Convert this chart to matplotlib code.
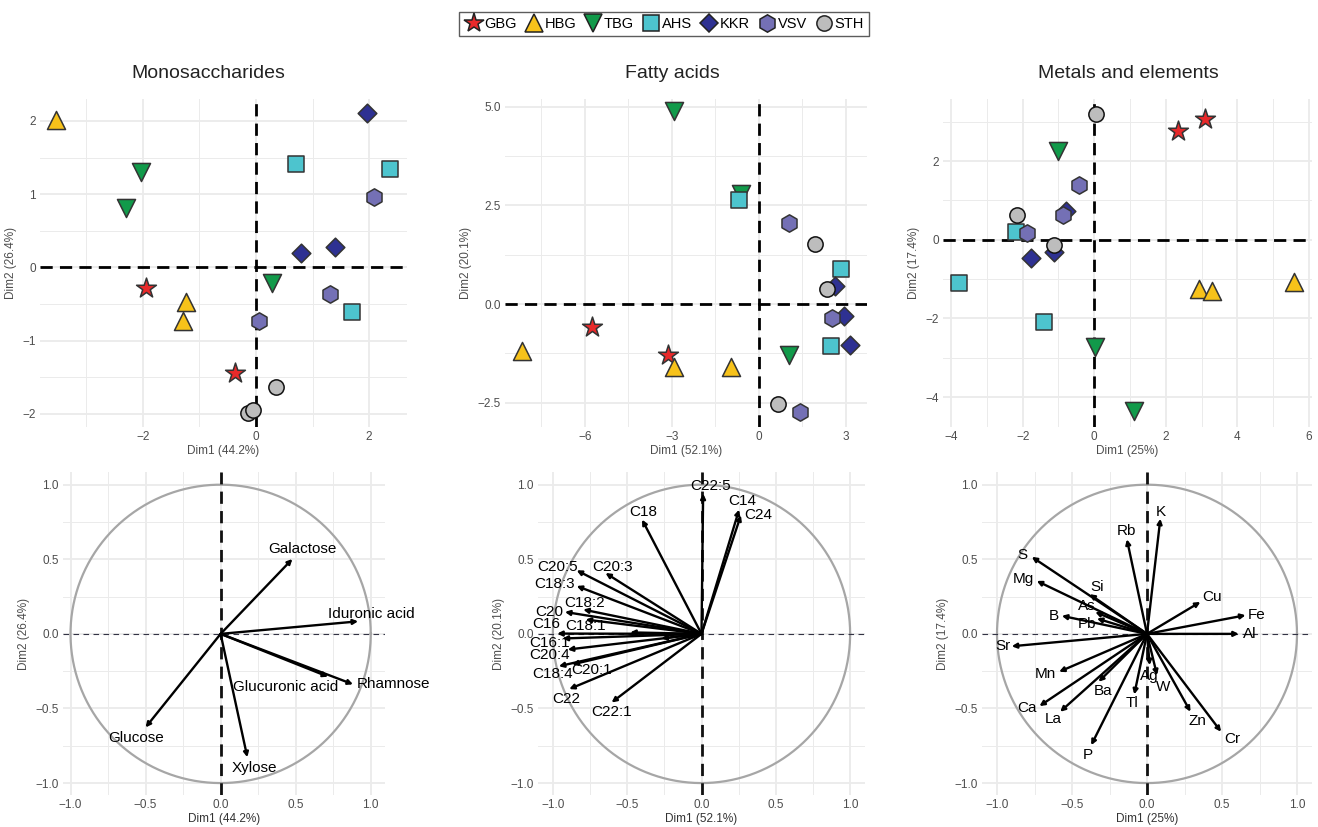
import numpy as np
import matplotlib
matplotlib.use("Agg")
import matplotlib.pyplot as plt
from matplotlib.lines import Line2D

plt.rcParams['font.family'] = ['Liberation Sans', 'DejaVu Sans']

W, H = 1318, 827

# groups / legend
groups = ["GBG", "HBG", "TBG", "AHS", "KKR", "VSV", "STH"]
colors = ["#E8292A", "#F7C21A", "#119A4A", "#4DC4CE", "#2E3192", "#7470B5", "#BDBDBD"]
markers = ["*", "^", "v", "s", "D", "h", "o"]
msizes = [15, 13, 13, 11, 9.5, 12.5, 11]

# individuals (3 per group, same order as groups)
mono_x = [-1.94, -0.37, -3.54, -1.24, -1.29, -2.04, -2.30, 0.28, 0.71, 2.37, 1.69,
          1.96, 0.79, 1.39, 2.08, 1.31, 0.06, 0.35, -0.15, -0.06]
mono_y = [-0.28, -1.44, 2.01, -0.47, -0.73, 1.30, 0.81, -0.21, 1.41, 1.35, -0.61,
          2.11, 0.20, 0.28, 0.96, -0.37, -0.73, -1.64, -1.99, -1.95]
mono_g = [0, 0, 1, 1, 1, 2, 2, 2, 3, 3, 3, 4, 4, 4, 5, 5, 5, 6, 6, 6]

fa_x = [-5.75, -3.13, -8.18, -2.93, -0.94, -2.92, -0.62, 1.05, -0.68, 2.85, 2.51,
        2.62, 2.94, 3.16, 1.03, 2.53, 1.44, 1.93, 2.37, 0.67]
fa_y = [-0.58, -1.29, -1.18, -1.60, -1.60, 4.88, 2.78, -1.29, 2.64, 0.89, -1.05,
        0.45, -0.30, -1.03, 2.04, -0.36, -2.73, 1.53, 0.38, -2.52]
fa_g = [0, 0, 1, 1, 1, 2, 2, 2, 3, 3, 3, 4, 4, 4, 5, 5, 5, 6, 6, 6]

met_x = [2.34, 3.10, 2.92, 3.29, 5.58, -1.01, 0.02, 1.11, -2.18, -3.77, -1.41,
         -1.76, -1.13, -0.78, -1.87, -0.43, -0.86, 0.05, -2.16, -1.13]
met_y = [2.76, 3.06, -1.25, -1.29, -1.08, 2.27, -2.73, -4.36, 0.19, -1.10, -2.09,
         -0.47, -0.31, 0.72, 0.17, 1.40, 0.62, 3.20, 0.62, -0.14]
met_g = [0, 0, 1, 1, 1, 2, 2, 2, 3, 3, 3, 4, 4, 4, 5, 5, 5, 6, 6, 6]

# variables
mono_vars = ["Galactose", "Iduronic acid", "Rhamnose", "Glucuronic acid", "Xylose", "Glucose"]
mono_vx = [0.478, 0.916, 0.882, 0.716, 0.178, -0.50]
mono_vy = [0.502, 0.084, -0.338, -0.287, -0.827, -0.627]

fa_vars = ["C22:5", "C14", "C24", "C18", "C20:5", "C20:3", "C18:3", "C18:2", "C20",
           "C18:1", "C16", "C16:1", "C20:4", "C18:4", "C20:1", "C22", "C22:1", "", ""]
fa_vx = [0.011, 0.253, 0.265, -0.40, -0.84, -0.646, -0.84, -0.796, -0.919,
         -0.78, -0.971, -0.935, -0.90, -0.96, -0.87, -0.89, -0.605, -0.48, -0.27]
fa_vy = [0.94, 0.833, 0.795, 0.766, 0.426, 0.408, 0.321, 0.163, 0.147,
         0.096, 0.002, -0.031, -0.105, -0.217, -0.205, -0.37, -0.46, 0.01, -0.03]

met_vars = ["K", "Rb", "S", "Mg", "Si", "As", "B", "Pb", "Cu", "Fe", "Al", "Sr",
            "Mn", "Ca", "La", "Ba", "P", "Tl", "Ag", "W", "Zn", "Cr"]
met_vx = [0.089, -0.134, -0.768, -0.735, -0.383, -0.345, -0.568, -0.334, 0.356, 0.657,
          0.612, -0.902, -0.586, -0.717, -0.579, -0.323, -0.372, -0.085, 0.018, 0.067,
          0.29, 0.494]
met_vy = [0.772, 0.634, 0.516, 0.355, 0.266, 0.147, 0.121, 0.103, 0.214, 0.125,
          0.0, -0.083, -0.254, -0.484, -0.522, -0.321, -0.746, -0.406, -0.21, -0.277,
          -0.522, -0.656]

# label nudges (dx, dy) from the arrow tip
mono_nudge = [(0.066, 0.065), (0.09, 0.05), (0.27, 0.0), (-0.28, -0.07), (0.05, -0.075), (-0.06, -0.07)]
fa_nudge = [(0.05, 0.05), (0.02, 0.06), (0.115, 0.0), (0.01, 0.05), (-0.13, 0.02), (0.05, 0.04),
            (-0.15, 0.01), (0.01, 0.045), (-0.105, 0.0), (0.0, -0.045), (-0.075, 0.062),
            (-0.085, -0.032), (-0.12, -0.035), (-0.04, -0.05), (0.13, -0.035), (-0.02, -0.065),
            (0.0, -0.067), (0, 0), (0, 0)]
met_nudge = [(0, 0.045), (0, 0.056), (-0.06, 0.01), (-0.09, 0.015), (0.05, 0.05), (-0.055, 0.04),
             (-0.055, 0), (-0.065, -0.035), (0.08, 0.03), (0.075, 0), (0.07, 0), (-0.06, 0),
             (-0.09, -0.015), (-0.085, -0.01), (-0.045, -0.05), (0.03, -0.06), (-0.02, -0.065),
             (-0.015, -0.06), (0, -0.07), (0.04, -0.08), (0.045, -0.065), (0.075, -0.05)]

fig = plt.figure(figsize=(W / 100, H / 100), dpi=100)


def px_axes(x0, y0, x1, y1):
    return fig.add_axes([x0 / W, 1 - y1 / H, (x1 - x0) / W, (y1 - y0) / H])


def style(ax, xlim, ylim, xmaj, ymaj, xmin, ymin):
    ax.set_xlim(*xlim)
    ax.set_ylim(*ylim)
    ax.set_xticks(xmaj)
    ax.set_yticks(ymaj)
    ax.set_xticks(xmin, minor=True)
    ax.set_yticks(ymin, minor=True)
    for s in ax.spines.values():
        s.set_visible(False)
    ax.grid(True, which='major', color='#EBEBEB', lw=1.3)
    ax.grid(True, which='minor', color='#EBEBEB', lw=0.7)
    ax.set_axisbelow(True)
    ax.tick_params(which='both', length=0, labelsize=8.5, labelcolor='#4D4D4D', pad=3)


def ind_panel(ax, xs, ys, gs, xlab, ylab):
    ax.axhline(0, color='black', lw=2, ls=(0, (4.4, 2.6)), zorder=2)
    ax.axvline(0, color='black', lw=2, ls=(0, (4.4, 2.6)), zorder=2)
    for x, y, g in zip(xs, ys, gs):
        ec = '#111111' if g == 6 else '#333333'
        ax.scatter(x, y, s=msizes[g] ** 2, marker=markers[g], c=colors[g],
                   edgecolors=ec, linewidths=1.1, zorder=3)
    ax.set_xlabel(xlab, fontsize=8.5, color='#4D4D4D', labelpad=1)
    ax.set_ylabel(ylab, fontsize=8.5, color='#4D4D4D', labelpad=4)


def var_panel(ax, names, vx, vy, nudges, xlab, ylab):
    t = np.linspace(0, 2 * np.pi, 300)
    ax.plot(np.cos(t), np.sin(t), color='#A6A6A6', lw=1.6, zorder=1)
    ax.axhline(0, color='#333344', lw=0.8, ls=(0, (5, 4)), zorder=2)
    ax.axvline(0, color='#111111', lw=2, ls=(0, (4.4, 2.6)), zorder=2)
    for n, x, y, (dx, dy) in zip(names, vx, vy, nudges):
        ax.annotate('', xy=(x, y), xytext=(0, 0),
                    arrowprops=dict(arrowstyle='-|>', color='black', lw=1.7,
                                    mutation_scale=7, shrinkA=0, shrinkB=0), zorder=3)
        if n:
            ax.text(x + dx, y + dy, n, ha='center', va='center', fontsize=11, color='black', zorder=4)
    ax.set_xlabel(xlab, fontsize=8.5, color='#333333', labelpad=1)
    ax.set_ylabel(ylab, fontsize=8.5, color='#4D4D4D', labelpad=4)


# --- top row: individuals
ax1 = px_axes(40, 99, 407, 427)
style(ax1, (-3.82, 2.67), (-2.18, 2.30), [-2, 0, 2], [-2, -1, 0, 1, 2],
      [-3, -1, 1], [-1.5, -0.5, 0.5, 1.5])
ind_panel(ax1, mono_x, mono_y, mono_g, "Dim1 (44.2%)", "Dim2 (26.4%)")

ax2 = px_axes(505, 99, 867, 427)
style(ax2, (-8.76, 3.74), (-3.11, 5.19), [-6, -3, 0, 3], [-2.5, 0, 2.5, 5.0],
      [-7.5, -4.5, -1.5, 1.5], [-1.25, 1.25, 3.75])
ax2.set_yticklabels(["-2.5", "0.0", "2.5", "5.0"])
ind_panel(ax2, fa_x, fa_y, fa_g, "Dim1 (52.1%)", "Dim2 (20.1%)")

ax3 = px_axes(943, 99, 1312, 427)
style(ax3, (-4.23, 6.09), (-4.76, 3.58), [-4, -2, 0, 2, 4, 6], [-4, -2, 0, 2],
      [-3, -1, 1, 3, 5], [-3, -1, 1, 3])
ind_panel(ax3, met_x, met_y, met_g, "Dim1 (25%)", "Dim2 (17.4%)")

for ax in (ax1, ax2, ax3):
    ax.set_yticklabels([l.get_text().replace('-', '\u2212') for l in ax.get_yticklabels()])

# --- bottom row: variables
vt = [-1.0, -0.5, 0.0, 0.5, 1.0]
vtm = [-0.75, -0.25, 0.25, 0.75]
vlab = ["\u22121.0", "\u22120.5", "0.0", "0.5", "1.0"]

ax4 = px_axes(63, 472, 385, 795)
style(ax4, (-1.05, 1.095), (-1.08, 1.085), vt, vt, vtm, vtm)
var_panel(ax4, mono_vars, mono_vx, mono_vy, mono_nudge, "Dim1 (44.2%)", "Dim2 (26.4%)")

ax5 = px_axes(538, 472, 865, 795)
style(ax5, (-1.1, 1.1), (-1.08, 1.085), vt, vt, vtm, vtm)
var_panel(ax5, fa_vars, fa_vx, fa_vy, fa_nudge, "Dim1 (52.1%)", "Dim2 (20.1%)")

ax6 = px_axes(982, 472, 1312, 795)
style(ax6, (-1.1, 1.1), (-1.08, 1.085), vt, vt, vtm, vtm)
var_panel(ax6, met_vars, met_vx, met_vy, met_nudge, "Dim1 (25%)", "Dim2 (17.4%)")

for ax in (ax4, ax5, ax6):
    ax.set_xticklabels(vlab)
    ax.set_yticklabels(vlab)

# titles
fig.text(208 / W, 1 - 73 / H, "Monosaccharides", ha='center', va='center', fontsize=14, color='#222222')
fig.text(672 / W, 1 - 73 / H, "Fatty acids", ha='center', va='center', fontsize=14, color='#222222')
fig.text(1128 / W, 1 - 73 / H, "Metals and elements", ha='center', va='center', fontsize=14, color='#222222')

# legend
handles = [Line2D([], [], ls='none', marker=m, markersize=s, markerfacecolor=c,
                  markeredgecolor='#222222', markeredgewidth=1.1)
           for m, s, c in zip(markers, msizes, colors)]
leg = fig.legend(handles, groups, loc='center', bbox_to_anchor=(664 / W, 1 - 24 / H), ncol=7,
                 fontsize=10.5, frameon=True, fancybox=False, handletextpad=0.1,
                 columnspacing=0.5, borderpad=0.35, handlelength=1.3)
leg.get_frame().set_edgecolor('#333333')
leg.get_frame().set_linewidth(1.0)

fig.savefig("out.png", dpi=100)
